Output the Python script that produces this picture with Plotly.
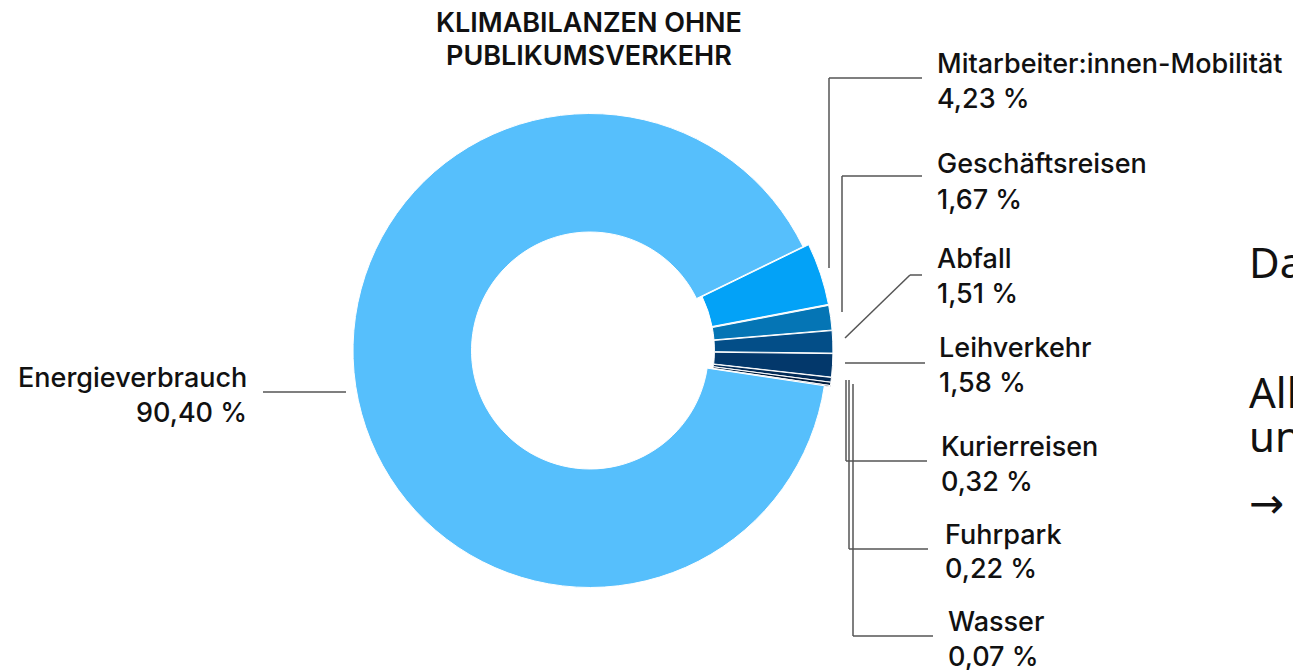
import plotly.graph_objects as go

W, H = 1293, 670

# ---- data ----
labels = ["Mitarbeiter:innen-Mobilität", "Geschäftsreisen", "Abfall", "Leihverkehr",
          "Kurierreisen", "Fuhrpark", "Wasser", "Energieverbrauch"]
values = [4.23, 1.67, 1.51, 1.58, 0.32, 0.22, 0.07, 90.40]
colors = ["#03A2F7", "#0575B5", "#034E88", "#03386B", "#022B57", "#011E40", "#00112A", "#56BFFC"]
pulls = [0.025, 0.025, 0.025, 0.025, 0.025, 0.025, 0.025, 0.0]

title_lines = ["KLIMABILANZEN OHNE", "PUBLIKUMSVERKEHR"]
side_text = ["Da", "All", "un", "→"]

def fmt(v):
    return f"{v:.2f}".replace(".", ",") + " %"

def px(x):
    return x / W

def py(y):
    return 1 - y / H

# pie geometry (pixels)
cx, cy, R = 590, 350.5, 237
half = R * (1 + max(pulls))

fig = go.Figure(go.Pie(
    labels=labels, values=values, sort=False, direction="clockwise",
    rotation=64, hole=0.5, pull=pulls,
    marker=dict(colors=colors, line=dict(color="white", width=1)),
    textinfo="none", hoverinfo="label+percent", showlegend=False,
    domain=dict(x=[px(cx - half), px(cx + half)], y=[py(cy + half), py(cy - half)]),
))

LBL_FONT = dict(family="Inter, sans-serif", size=27, color="#111111", weight=500)

# label positions: (x_left, y_name, y_value, anchor)
label_pos = [
    (935, 64, 98, "left"),
    (935, 163, 199, "left"),
    (935, 259, 293, "left"),
    (937, 347, 382, "left"),
    (939, 447, 481, "left"),
    (943, 534, 568, "left"),
    (946, 621, 656, "left"),
    (249, 377, 412, "right"),
]

annotations = []
for (x, y1, y2, anc), lab, val in zip(label_pos, labels, values):
    annotations.append(dict(x=px(x), y=py(y1), xref="paper", yref="paper", text=lab,
                            showarrow=False, xanchor=anc, yanchor="middle", font=LBL_FONT))
    annotations.append(dict(x=px(x), y=py(y2), xref="paper", yref="paper", text=fmt(val),
                            showarrow=False, xanchor=anc, yanchor="middle", font=LBL_FONT))

for t, y in zip(title_lines, [23, 56]):
    annotations.append(dict(x=px(589), y=py(y), xref="paper", yref="paper", text=t,
                            showarrow=False, xanchor="center", yanchor="middle",
                            font=dict(family="Inter, sans-serif", size=27, color="#111111", weight=600)))

side_y = [261, 391, 436, 503]
for t, y in zip(side_text, side_y):
    fam = "DejaVu Sans, sans-serif" if t == "→" else "Noto Sans, sans-serif"
    annotations.append(dict(x=px(1247), y=py(y), xref="paper", yref="paper", text=t,
                            showarrow=False, xanchor="left", yanchor="middle",
                            font=dict(family=fam, size=42, color="#111111")))

# leader lines (pixel paths)
leaders = [
    [(922, 78), (829, 78), (829, 268)],
    [(922, 176), (842, 176), (842, 312)],
    [(922, 275), (910, 275), (845, 338)],
    [(925, 363), (845, 363)],
    [(846, 380), (846, 461), (927, 461)],
    [(849, 380), (849, 549), (928, 549)],
    [(853, 384), (853, 636), (933, 636)],
    [(263, 392), (346, 392)],
]
shapes = []
for pts in leaders:
    for (x0, y0), (x1, y1) in zip(pts[:-1], pts[1:]):
        shapes.append(dict(type="line", xref="paper", yref="paper",
                           x0=px(x0), y0=py(y0), x1=px(x1), y1=py(y1),
                           line=dict(color="#555555", width=1.5)))

fig.update_layout(
    width=W, height=H, margin=dict(l=0, r=0, t=0, b=0),
    paper_bgcolor="white", plot_bgcolor="white",
    annotations=annotations, shapes=shapes,
)

fig.write_html("out.html", config={"displayModeBar": False},
               post_script="document.body.style.margin='0';document.body.style.overflow='hidden';")
